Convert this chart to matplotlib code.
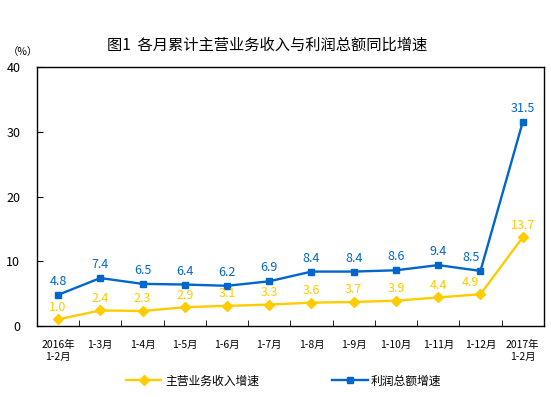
import numpy as np
import matplotlib
matplotlib.use('Agg')
from matplotlib import pyplot as plt

plt.rcParams['font.family'] = ['Noto Sans CJK SC', 'DejaVu Sans']

# data
months = ['2016年\n1-2月', '1-3月', '1-4月', '1-5月', '1-6月', '1-7月',
          '1-8月', '1-9月', '1-10月', '1-11月', '1-12月', '2017年\n1-2月']
revenue = [1.0, 2.4, 2.3, 2.9, 3.1, 3.3, 3.6, 3.7, 3.9, 4.4, 4.9, 13.7]
profit = [4.8, 7.4, 6.5, 6.4, 6.2, 6.9, 8.4, 8.4, 8.6, 9.4, 8.5, 31.5]

yellow = '#FFCC00'
blue = '#0066CC'

fig = plt.figure(figsize=(5.51, 3.97), dpi=100)
ax = fig.add_axes([0.067, 0.179, 0.92, 0.652])

x = np.arange(len(months))
ax.plot(x, revenue, color=yellow, linewidth=1.7, marker='D', markersize=5,
        label='主营业务收入增速')
ax.plot(x, profit, color=blue, linewidth=1.7, marker='s', markersize=4.5,
        label='利润总额增速')

for i in range(len(x)):
    dx = -7 if i == len(x) - 2 else 0
    ax.annotate('%.1f' % revenue[i], (x[i], revenue[i]), xytext=(dx, 4),
                textcoords='offset points', ha='center', va='bottom',
                color=yellow, fontsize=9)
    ax.annotate('%.1f' % profit[i], (x[i], profit[i]), xytext=(dx, 5),
                textcoords='offset points', ha='center', va='bottom',
                color=blue, fontsize=9)

ax.set_xlim(-0.5, len(months) - 0.5)
ax.set_ylim(0, 40)
ax.set_yticks([0, 10, 20, 30, 40])
ax.tick_params(axis='y', direction='in', length=4, labelsize=9, pad=12)
ax.set_xticks(x)
ax.set_xticklabels(months, fontsize=7.5)
ax.tick_params(axis='x', length=0, pad=10)
# category boundary ticks
ax.set_xticks(np.arange(0.5, len(months) - 0.5, 1), minor=True)
ax.tick_params(axis='x', which='minor', direction='in', length=4)
for s in ax.spines.values():
    s.set_linewidth(1)

fig.text(0.485, 0.887, '图1  各月累计主营业务收入与利润总额同比增速',
         ha='center', va='center', fontsize=11, fontweight='medium')
fig.text(0.042, 0.87, '（%）', ha='center', va='center', fontsize=7.5)

fig.legend(loc='center', bbox_to_anchor=(0.515, 0.04), ncol=2, frameon=False,
           fontsize=8.5, columnspacing=6.2, handlelength=3, handletextpad=0.3)

fig.savefig('out.png', dpi=100)
plt.close()
